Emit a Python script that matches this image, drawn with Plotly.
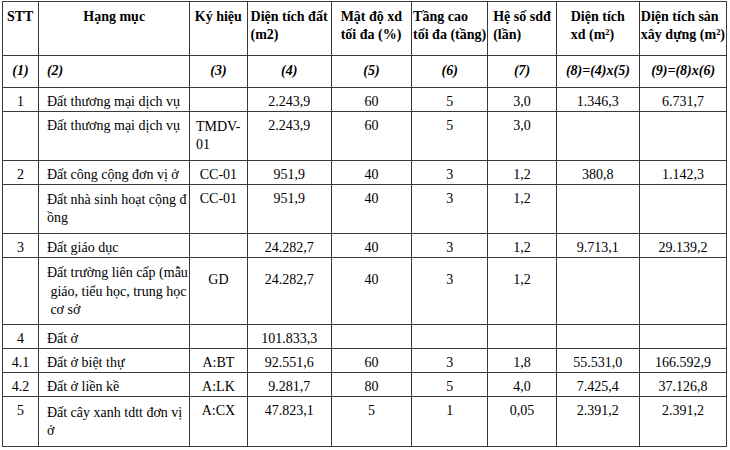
import plotly.graph_objects as go

# ─── dữ liệu bảng ──────────────────────────────────────────
headers = [
    "STT", "Hạng mục", "Ký hiệu", "Diện tích đất<br>(m2)", "Mật độ xd<br>tối đa (%)",
    "Tầng cao<br>tối đa (tầng)", "Hệ số sdđ<br>(lần)", "Diện tích<br>xd (m²)",
    "Diện tích sàn<br>xây dựng (m²)",
]
col_index = ["(1)", "(2)", "(3)", "(4)", "(5)", "(6)", "(7)", "(8)=(4)x(5)", "(9)=(8)x(6)"]

stt = ["1", "", "2", "", "3", "", "4", "4.1", "4.2", "5"]
hang_muc = [
    "Đất thương mại dịch vụ",
    "Đất thương mại dịch vụ",
    "Đất công cộng đơn vị ở",
    "Đất nhà sinh hoạt cộng đ<br>ồng",
    "Đất giáo dục",
    "Đất trường liên cấp (mẫu<br> giáo, tiểu học, trung học<br> cơ sở",
    "Đất ở",
    "Đất ở biệt thự",
    "Đất ở liền kề",
    "Đất cây xanh tdtt đơn vị<br>ở",
]
ky_hieu = ["", "TMDV-<br>01", "CC-01", "CC-01", "", "GD", "", "A:BT", "A:LK", "A:CX"]
dien_tich_dat = ["2.243,9", "2.243,9", "951,9", "951,9", "24.282,7", "24.282,7",
                 "101.833,3", "92.551,6", "9.281,7", "47.823,1"]
mat_do = ["60", "60", "40", "40", "40", "40", "", "60", "80", "5"]
tang_cao = ["5", "5", "3", "3", "3", "3", "", "3", "5", "1"]
he_so = ["3,0", "3,0", "1,2", "1,2", "1,2", "1,2", "", "1,8", "4,0", "0,05"]
dien_tich_xd = ["1.346,3", "", "380,8", "", "9.713,1", "", "", "55.531,0", "7.425,4", "2.391,2"]
dien_tich_san = ["6.731,7", "", "1.142,3", "", "29.139,2", "", "", "166.592,9", "37.126,8", "2.391,2"]

columns = [stt, hang_muc, ky_hieu, dien_tich_dat, mat_do, tang_cao, he_so,
           dien_tich_xd, dien_tich_san]


def nb(s):
    # khoảng trắng không ngắt để plotly không tự xuống dòng
    return s.replace(" ", "\u00a0")


# căn giữa theo chiều dọc (gần đúng) cho hàng có nhiều dòng chữ
n_rows = len(stt)
row_lines = [max(col[i].count("<br>") + 1 for col in columns) for i in range(n_rows)]


def vcenter(s, i):
    if not s:
        return s
    pad = (row_lines[i] - (s.count("<br>") + 1)) // 2
    return "<br>" * pad + s


# hàng (1)...(9) in nghiêng đậm nằm đầu phần thân bảng
cell_values = [[f"<b><i>{c}</i></b>"] + [nb(vcenter(v, i)) for i, v in enumerate(col)]
               for c, col in zip(col_index, columns)]

FONT = "Liberation Serif"
fig = go.Figure(go.Table(
    columnwidth=[37, 151, 58, 84, 81, 76, 69, 83, 88],
    header=dict(
        values=[f"<b>{nb(h)}</b>" for h in headers],
        align="center", height=54,
        font=dict(family=FONT, size=14, color="black"),
        line=dict(color="#3a3a3a", width=1), fill_color="white",
    ),
    cells=dict(
        values=cell_values,
        align=["center", "left"] + ["center"] * 7,
        height=24,
        font=dict(family=FONT, size=14, color="black"),
        line=dict(color="#3a3a3a", width=1), fill_color="white",
    ),
))
fig.update_layout(
    width=730, height=450,
    margin=dict(t=1, b=0, l=2, r=3),
    paper_bgcolor="white",
)
# bỏ lề mặc định 8px của <body> để bảng nằm sát mép như ảnh gốc
fig.write_html("out.html", config={"displayModeBar": False},
               post_script="document.body.style.margin='0';")
